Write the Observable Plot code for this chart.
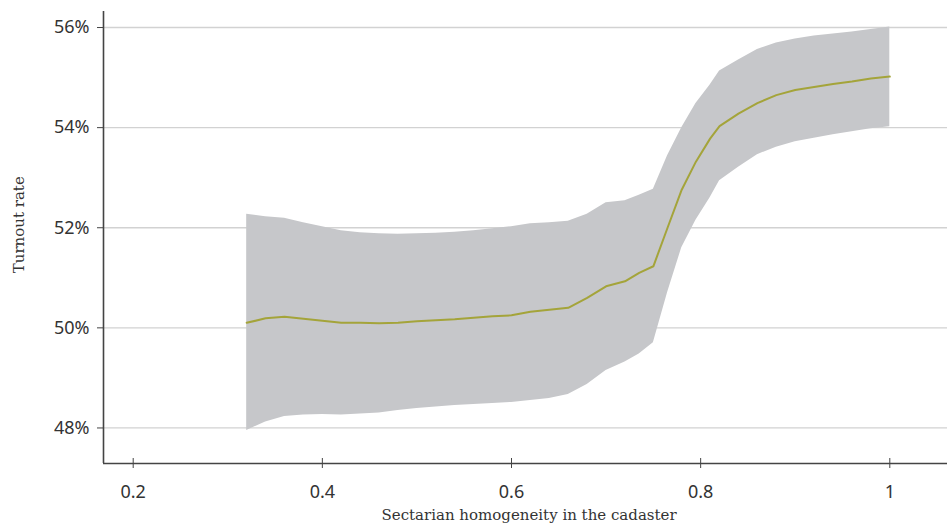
<!DOCTYPE html>
<html>
<head>
<meta charset="utf-8">
<script src="https://cdn.jsdelivr.net/npm/d3@7"></script>
<script src="https://cdn.jsdelivr.net/npm/@observablehq/plot@0.6"></script>
<style>
  html, body { margin: 0; padding: 0; background: #fff; }
</style>
</head>
<body>
<div id="chart"></div>
<script>
// Sectarian homogeneity of the cadaster (x) and predicted turnout with its confidence band
const homogeneity = [0.32, 0.34, 0.36, 0.38, 0.40, 0.42, 0.44, 0.46, 0.48, 0.50,
  0.52, 0.54, 0.56, 0.58, 0.60, 0.62, 0.64, 0.66, 0.68, 0.70,
  0.72, 0.735, 0.75, 0.765, 0.78, 0.795, 0.81, 0.82, 0.84, 0.86,
  0.88, 0.90, 0.92, 0.94, 0.96, 0.98, 1.00];
const turnout = [50.10, 50.19, 50.22, 50.18, 50.14, 50.10, 50.10, 50.09, 50.10, 50.13,
  50.15, 50.17, 50.20, 50.23, 50.25, 50.32, 50.36, 50.40, 50.60, 50.83,
  50.93, 51.10, 51.23, 52.00, 52.76, 53.32, 53.78, 54.03, 54.28, 54.49,
  54.65, 54.75, 54.81, 54.87, 54.92, 54.98, 55.02];
const lowerBound = [47.95, 48.12, 48.23, 48.26, 48.27, 48.26, 48.28, 48.30, 48.35, 48.39,
  48.42, 48.45, 48.47, 48.49, 48.51, 48.55, 48.59, 48.67, 48.87, 49.15,
  49.32, 49.48, 49.70, 50.70, 51.60, 52.15, 52.60, 52.94, 53.21, 53.46,
  53.61, 53.72, 53.79, 53.86, 53.92, 53.98, 54.02];
const upperBound = [52.27, 52.22, 52.19, 52.10, 52.02, 51.94, 51.90, 51.88, 51.87, 51.88,
  51.89, 51.91, 51.94, 51.98, 52.02, 52.08, 52.10, 52.13, 52.27, 52.50,
  52.54, 52.65, 52.77, 53.44, 54.00, 54.48, 54.85, 55.13, 55.35, 55.56,
  55.69, 55.77, 55.83, 55.87, 55.91, 55.96, 56.01];

const xTicks = [0.2, 0.4, 0.6, 0.8, 1];
const yTicks = [48, 50, 52, 54, 56];
const xTitle = "Sectarian homogeneity in the cadaster";
const yTitle = "Turnout rate";

const rows = homogeneity.map((x, i) => ({
  x, mean: turnout[i], lo: lowerBound[i], hi: upperBound[i]
}));

const xDomain = [0.1686, 1.061];
const yDomain = [47.29, 56.32];
const axisColor = "#444";
const serif = "'DejaVu Serif', serif";

const chart = Plot.plot({
  width: 947,
  height: 528,
  marginLeft: 103,
  marginRight: 0,
  marginTop: 11,
  marginBottom: 65,
  x: {domain: xDomain},
  y: {domain: yDomain},
  style: {fontFamily: "'Noto Sans', sans-serif", fontSize: "18px", color: "#333", background: "#fff"},
  marks: [
    Plot.gridY(yTicks, {stroke: "#d2d2d2", strokeOpacity: 1, strokeWidth: 1.3}),
    Plot.areaY(rows, {x: "x", y1: "lo", y2: "hi", fill: "#c6c7ca"}),
    Plot.lineY(rows, {x: "x", y: "mean", stroke: "#a4a43a", strokeWidth: 2}),
    Plot.axisY(yTicks, {tickFormat: d => d + "%", tickSize: 6, tickPadding: 8, label: null, stroke: axisColor}),
    Plot.axisX(xTicks, {tickFormat: d => String(d), tickSize: 5, tickPadding: 17, label: null, stroke: axisColor}),
    Plot.axisX(xTicks, {text: null, tickSize: 5, dy: -5, label: null, stroke: axisColor}),
    Plot.ruleX([xDomain[0]], {stroke: axisColor, strokeWidth: 1.6}),
    Plot.ruleY([yDomain[0]], {stroke: axisColor, strokeWidth: 1.6}),
    // axis titles, placed in the left and bottom margins
    Plot.text([yTitle], {x: () => 0.0797, y: () => 52.06, rotate: -90,
      fontFamily: serif, fontSize: 15, fill: "#333"}),
    Plot.text([xTitle], {frameAnchor: "bottom-left", dx: 278, dy: 56, textAnchor: "start",
      fontFamily: serif, fontSize: 15, fill: "#333"})
  ]
});

document.getElementById("chart").append(chart);
</script>
</body>
</html>
